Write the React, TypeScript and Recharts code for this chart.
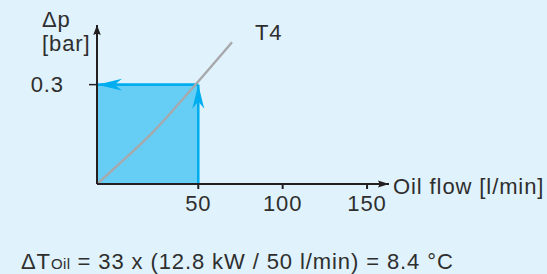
import {
  ComposedChart,
  Line,
  XAxis,
  YAxis,
  ReferenceArea,
  ReferenceLine,
  ReferenceDot,
} from "recharts";

// T4 pressure-drop curve (oil flow in l/min vs. Δp in bar)
const flow = [-10, 0, 23, 48, 70];
const dpT4 = [0, 0.046, 0.156, 0.298, 0.428];
const xTicks = [50, 100, 150];
const yTicks = [0.3];
const opFlow = 50;
const opDp = 0.3;
const xMin = -10;
const xMax = 163;
const yMax = 0.48;

const data = flow.map((f, i) => ({ flow: f, dp: dpT4[i] }));

const FONT = '"Liberation Sans", Arial, Helvetica, sans-serif';
const TEXT = "#2e2e2e";
const AXIS = "#231f20";
const BLUE = "#00aeef";
const FILL = "#66cdf5";
const GREY = "#a7a9ac";

type Dir = "left" | "up" | "right";

const arrowHead =
  (dir: Dir, len: number, half: number, color: string, notch = 0.75) =>
  (props: any) => {
    const { cx, cy } = props;
    let d = "";
    if (dir === "left")
      d = `M${cx},${cy}L${cx + len},${cy - half}L${cx + len * notch},${cy}L${cx + len},${cy + half}Z`;
    if (dir === "right")
      d = `M${cx},${cy}L${cx - len},${cy - half}L${cx - len * notch},${cy}L${cx - len},${cy + half}Z`;
    if (dir === "up")
      d = `M${cx},${cy}L${cx - half},${cy + len}L${cx},${cy + len * notch}L${cx + half},${cy + len}Z`;
    return <path d={d} fill={color} stroke="none" />;
  };

const textStyle = { fontFamily: FONT, fontSize: 22, fill: TEXT, letterSpacing: 0.9 };

export default function App() {
  return (
    <div
      style={{
        position: "absolute",
        left: 0,
        top: 0,
        width: 547,
        height: 274,
        background: "#e0f2fb",
      }}
    >
      <ComposedChart
        width={547}
        height={274}
        data={data}
        margin={{ top: 25, right: 158, bottom: 60, left: 57 }}
      >
        <XAxis
          type="number"
          dataKey="flow"
          domain={[xMin, xMax]}
          ticks={xTicks}
          height={30}
          tickSize={5}
          tickMargin={6}
          axisLine={{ stroke: AXIS, strokeWidth: 2 }}
          tickLine={{ stroke: AXIS, strokeWidth: 2 }}
          tick={{ ...textStyle }}
          allowDataOverflow
        />
        <YAxis
          type="number"
          domain={[0, yMax]}
          ticks={yTicks}
          width={40}
          tickSize={8}
          tickMargin={25}
          axisLine={{ stroke: AXIS, strokeWidth: 2 }}
          tickLine={{ stroke: AXIS, strokeWidth: 1.5 }}
          tick={{ ...textStyle }}
          allowDataOverflow
        />
        <ReferenceArea
          x1={xMin}
          x2={opFlow}
          y1={0}
          y2={opDp}
          fill={FILL}
          fillOpacity={1}
          stroke="none"
        />
        <ReferenceLine
          segment={[
            { x: xMin, y: opDp },
            { x: opFlow, y: opDp },
          ]}
          stroke={BLUE}
          strokeWidth={2.6}
        />
        <ReferenceLine
          segment={[
            { x: opFlow, y: 0 },
            { x: opFlow, y: opDp },
          ]}
          stroke={BLUE}
          strokeWidth={2.6}
        />
        <ReferenceDot x={xMin} y={opDp} shape={arrowHead("left", 25, 5.8, BLUE, 0.7)} />
        <ReferenceDot x={opFlow} y={opDp} shape={arrowHead("up", 24, 6, BLUE, 0.7)} />
        <ReferenceDot x={xMin} y={yMax} shape={arrowHead("up", 10, 3.8, AXIS, 0.85)} />
        <ReferenceDot x={xMax} y={0} shape={arrowHead("right", 11, 3.6, AXIS, 0.85)} />
        <Line
          type="monotone"
          dataKey="dp"
          stroke={GREY}
          strokeWidth={2.4}
          dot={false}
          isAnimationActive={false}
        />
        <text x={42} y={27} style={textStyle}>
          Δp
        </text>
        <text x={42} y={51} style={textStyle}>
          [bar]
        </text>
        <text x={255} y={40} style={textStyle}>
          T4
        </text>
        <text x={393} y={194} style={textStyle}>
          Oil flow [l/min]
        </text>
        <text x={21} y={269} style={textStyle}>
          ΔT<tspan style={{ fontSize: 15, letterSpacing: 0.4 }}>Oil</tspan> = 33 x (12.8 kW / 50 l/min) = 8.4 °C
        </text>
      </ComposedChart>
    </div>
  );
}
